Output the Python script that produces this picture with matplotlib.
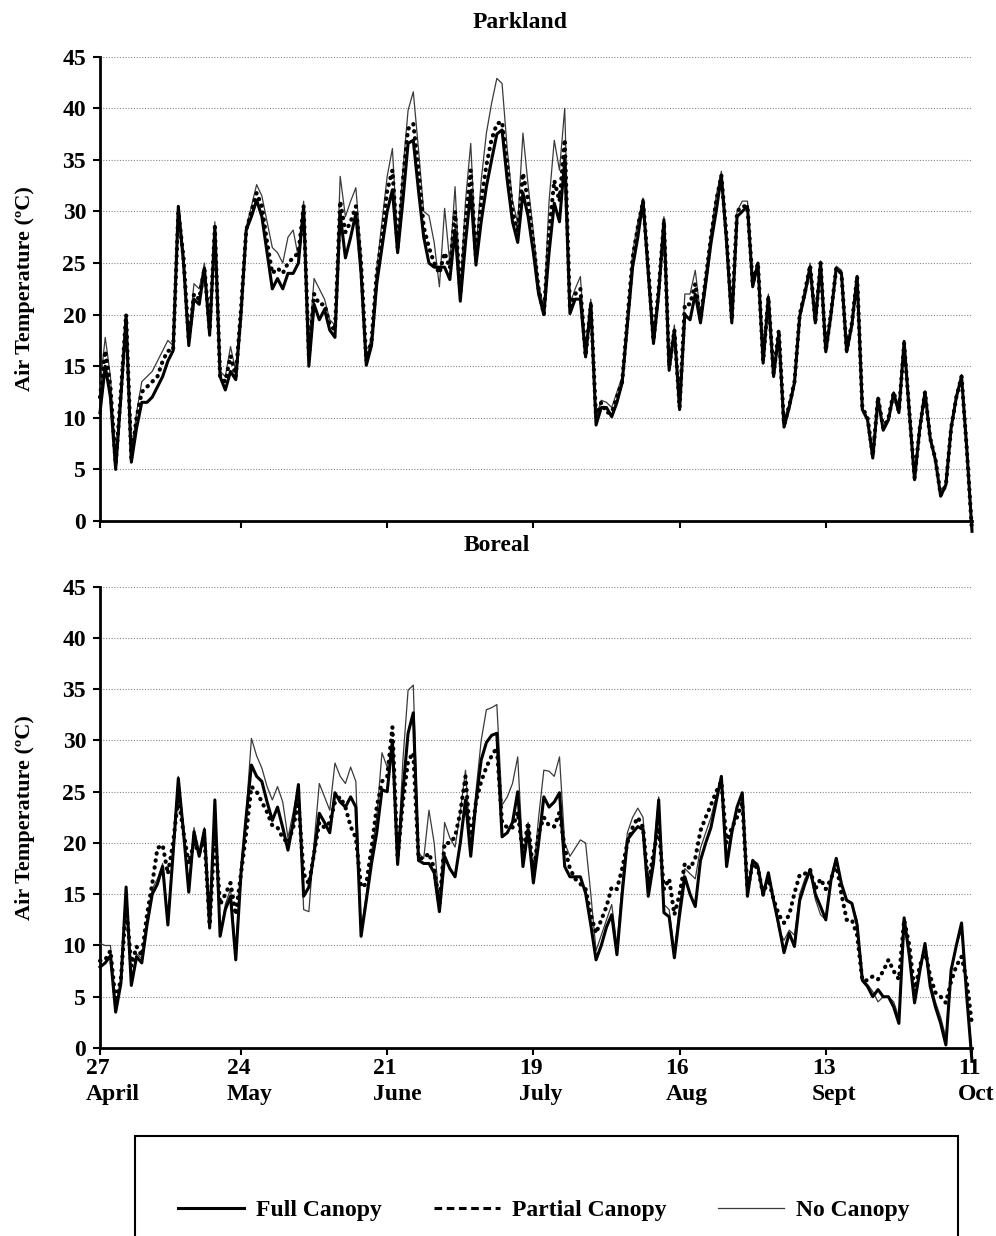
import numpy as np
import pandas as pd
import matplotlib
matplotlib.use("Agg")
import matplotlib.pyplot as plt
import matplotlib.transforms as mtransforms
from matplotlib.lines import Line2D
from matplotlib.patches import Rectangle

# daily maximum air temperature (ºC), 27 April - 11 October
park_full = [
    10.5, 15, 12, 5, 12, 19.8, 5.7, 9, 11.5, 11.5,
    12, 13, 14, 15.5, 16.5, 30.5, 25, 17, 21.5, 21,
    24.5, 18, 28.5, 14, 12.7, 14.5, 13.7, 20, 28.2, 29.5,
    31.1, 29.5, 26, 22.5, 23.5, 22.5, 24, 24, 25, 30.5,
    15, 21, 19.5, 20.5, 18.5, 17.8, 29.8, 25.5, 27.5, 29.8,
    24, 15.1, 17, 23, 26.5, 30, 32.1, 26, 31, 36.6,
    36.9, 32, 27.5, 25, 24.6, 24.6, 24.6, 23.4, 28.2, 21.3,
    27, 32, 24.8, 29, 32.4, 35, 37.5, 37.9, 33, 29,
    27, 31.8, 29.5, 26, 22, 20, 26, 30.8, 29, 35,
    20.1, 21.5, 21.5, 15.9, 21.1, 9.3, 11, 11, 10.1, 11.5,
    13.4, 19, 24.6, 27.5, 31.1, 24, 17.2, 22, 29.2, 14.6,
    18.5, 10.8, 20, 19.5, 22, 19.2, 23, 26.9, 30, 33.5,
    27, 19.2, 29.5, 30, 30.5, 22.7, 25, 15.3, 21.7, 14,
    18.2, 9.1, 11, 13.4, 19.8, 22, 24.6, 19.2, 25, 16.4,
    20, 24.5, 24, 16.4, 19, 23.7, 10.8, 9.8, 6.1, 11.9,
    8.8, 9.8, 12.4, 10.5, 17.4, 10.5, 4, 9, 12.5, 8,
    5.9, 2.4, 3.5, 9, 12, 14, 7, -1,
]
park_partial = [
    12, 16.5, 13, 5.5, 12.5, 20, 6, 10, 12.5, 13,
    13.5, 14, 15.5, 16.5, 16.5, 30, 25.5, 17.5, 22, 21.5,
    24.5, 18.5, 28.5, 14, 13.5, 16, 14, 20.5, 28.2, 30,
    31.8, 30.5, 27, 24, 24.5, 24, 25, 25.5, 26, 30.5,
    16, 22, 21, 21, 19, 18.5, 31, 28, 29, 30.5,
    25, 15.5, 17.5, 24, 27.5, 32, 34, 26.5, 33, 38,
    38.5, 34, 28.5, 26.5, 25, 24, 26, 24.5, 30, 22,
    29, 34, 25.5, 31, 34.5, 37, 38.5, 38.7, 34.5, 30,
    28, 33.7, 31, 27, 22.5, 20, 28, 33, 31, 37,
    20.5, 22, 22.5, 16, 21, 10, 11.5, 10.5, 10.5, 12,
    13.5, 19.5, 25.5, 28.5, 31, 24.5, 17.5, 22.5, 29, 15,
    18.5, 11, 21, 21, 23, 19.5, 23.5, 27.5, 31, 33.5,
    27.5, 19.5, 30, 30.5, 30.5, 23, 25, 15.5, 21.7, 14.3,
    18.5, 9.3, 11.2, 13.5, 20, 22.2, 24.8, 19.3, 25, 16.5,
    20.2, 24.5, 24, 16.5, 19.2, 23.7, 11, 10, 6.3, 12,
    9, 10, 12.5, 10.6, 17.2, 10.6, 4.2, 9, 12.5, 8,
    6, 2.5, 3.5, 9, 12, 14, 7, -1,
]
park_none = [
    13, 17.8, 14, 6, 13, 20, 6.5, 10.5, 13.5, 14,
    14.5, 15.5, 16.5, 17.5, 17, 30.5, 26, 18, 23, 22.5,
    25, 19, 29, 14.5, 14, 16.9, 14.5, 21, 28.5, 30.5,
    32.6, 31.5, 29, 26.5, 26, 25, 27.5, 28.2, 25.5, 31,
    17, 23.5, 22.5, 21.5, 19.5, 19, 33.4, 29.5, 31, 32.3,
    26, 15.5, 18, 24.5, 29, 33.4, 36.1, 27, 34, 39.8,
    41.6, 36, 30, 29.6, 27, 22.7, 30.3, 25, 32.4, 22.5,
    31, 36.6, 26, 33, 37.6, 40.5, 42.9, 42.4, 36, 31,
    28.9, 37.6, 32.5, 28, 23, 20.5, 31, 36.9, 34, 40,
    21, 22.5, 23.7, 16.5, 21.5, 10, 11.7, 11.5, 11, 12.5,
    14, 20, 26, 29, 31.3, 25, 18, 23, 29.5, 15,
    19, 11, 22, 22, 24.3, 20, 24, 28, 31.5, 33.9,
    28, 19.5, 30, 31, 31, 23.5, 25, 16, 22, 14.5,
    18.5, 9.5, 11.5, 13.6, 20.2, 22.5, 25, 19.5, 25.2, 16.6,
    20.5, 24.7, 24.3, 16.7, 19.5, 23.8, 11, 10, 6.5, 12,
    9, 10, 12.5, 10.6, 17.5, 10.6, 4.2, 9.2, 12.6, 8.2,
    6, 2.5, 3.6, 9.2, 12.2, 14.2, 7.2, -1,
]

boreal_full = [
    7.9, 8.3, 9, 3.5, 6.3, 15.7, 6.1, 8.9, 8.3, 12,
    15, 16, 17.7, 12, 19, 26.3, 21, 15.2, 21.1, 18.7,
    21.3, 11.7, 24.2, 10.9, 13.5, 14.8, 8.6, 17, 22.6, 27.6,
    26.5, 26, 24, 22.2, 23.5, 21.5, 19.3, 22, 25.7, 14.8,
    15.7, 19, 22.9, 22, 21, 24.9, 24, 23.5, 24.5, 23.5,
    10.9, 14.4, 18, 21, 25.2, 25, 30, 17.9, 25, 30.7,
    32.7, 18.3, 18, 18, 17.1, 13.3, 18.7, 17.5, 16.7, 20,
    24.2, 18.7, 24, 28.1, 29.8, 30.5, 30.7, 20.6, 21, 22,
    25, 17.7, 21.3, 16.1, 20, 24.5, 23.5, 24, 24.9, 17.7,
    16.7, 16.7, 16.7, 15.1, 12, 8.6, 10, 11.8, 13, 9.1,
    15, 20.3, 21, 21.6, 21.3, 14.8, 18, 24.2, 13.2, 12.8,
    8.8, 13, 16.7, 15, 13.8, 18.3, 20, 21.5, 24, 26.5,
    17.7, 21, 23.5, 24.9, 14.8, 18.3, 17.7, 14.9, 17.1, 14.4,
    12, 9.3, 11.2, 9.9, 14.4, 16, 17.4, 15, 13.8, 12.5,
    16.4, 18.5, 16, 14.4, 14.1, 12, 6.6, 6, 5, 5.7,
    5, 5, 4, 2.4, 12.7, 9, 4.4, 7.5, 10.2, 6,
    4, 2.4, 0.3, 7.6, 10, 12.2, 5, -1.3,
]
boreal_partial = [
    8.5, 8.6, 9.5, 4.5, 6.7, 14, 8, 9.9, 9, 13,
    16, 19.5, 19.8, 17, 20, 24.5, 21, 18, 20, 19,
    20.5, 12, 21, 14, 15, 16.1, 13, 17, 21, 25.5,
    25, 24, 23, 21.7, 21.5, 20.5, 20, 21.5, 24, 17,
    16, 19, 22, 21.5, 22, 24, 24.5, 23.5, 21.6, 20.5,
    15.7, 16, 19.5, 23.5, 26, 26.5, 31.3, 18.5, 24, 28,
    28.8, 18.5, 18.5, 19, 17.5, 14, 20, 20, 20.6, 23,
    26.5, 20, 24, 26, 27.4, 28.5, 29.3, 22, 21.5, 21.5,
    23, 19, 22, 17, 21, 22.5, 21.7, 21.6, 23, 19.5,
    17.5, 16.5, 16, 15.5, 13, 11.2, 12.5, 13.8, 15.7, 15.5,
    17.5, 20, 21.5, 22.5, 21.5, 16, 19, 21.5, 15.5, 16.5,
    13, 15, 18, 17.5, 18.5, 21.2, 22.5, 23.7, 25, 26,
    20, 21.5, 22.5, 24, 15.5, 18, 17.5, 15, 16.5, 14.5,
    13, 12.2, 13, 15.1, 16.9, 17, 17.4, 15.5, 16.5, 15.5,
    16.5, 18, 15, 12.5, 12.5, 11, 6.6, 6.6, 7, 6.7,
    7.5, 8.6, 7.5, 6.7, 12.5, 10, 5.5, 8, 9.5, 7,
    5.4, 5, 4.4, 6.5, 8, 8.9, 6.5, 2.2,
]
boreal_none = [
    10.2, 10, 10, 4, 6.5, 15.7, 6.5, 9.2, 8.7, 12.5,
    15.5, 16.5, 18, 12.5, 19.5, 26.5, 21.5, 15.5, 21.5, 19,
    21.5, 12, 24, 11, 14, 15.5, 9.5, 17.5, 23, 30.2,
    28.5, 27.3, 25.5, 24.2, 25.5, 24, 20.5, 23, 25.7, 13.5,
    13.3, 20, 25.8, 24.5, 23.2, 27.8, 26.5, 25.8, 27.4, 26,
    11.5, 15, 19, 22.5, 28.8, 27.4, 29, 18, 28, 34.9,
    35.4, 19, 18.5, 23.2, 20, 14, 22, 20.5, 19.6, 23,
    27.1, 19.5, 25, 30, 33, 33.2, 33.5, 23.7, 24.5, 25.8,
    28.4, 18.5, 22, 17, 22.5, 27.1, 27, 26.5, 28.4, 20,
    18.7, 19.5, 20.3, 20, 15, 9.5, 11, 12.5, 14, 10,
    16, 21, 22.5, 23.4, 22.5, 15.5, 19, 24.5, 14, 13.5,
    9.5, 14, 17.5, 17, 16.5, 19.5, 21, 22.5, 24.5, 26,
    18.5, 21.5, 23.5, 24.9, 15, 18.3, 18, 15, 17.1, 14.5,
    11.5, 10.5, 11.5, 11, 15, 16.5, 17.4, 14.5, 13, 12.5,
    16.5, 18.5, 16, 14.5, 14.2, 12.5, 6.6, 6.2, 5.5, 4.5,
    5, 5, 4.5, 3, 12.5, 9.5, 4.8, 8, 10, 6.5,
    4.5, 3, 1, 7.5, 10, 11.5, 5, -0.5,
]

start_date = "2004-04-27"
tick_dates = ["2004-04-27", "2004-05-24", "2004-06-21", "2004-07-19",
              "2004-08-16", "2004-09-13", "2004-10-11"]
tick_labels = ["27\nApril", "24\nMay", "21\nJune", "19\nJuly",
               "16\nAug", "13\nSept", "11\nOct"]
series_names = ["Full Canopy", "Partial Canopy", "No Canopy"]

plt.rcParams['font.family'] = ['Liberation Serif', 'DejaVu Serif']
plt.rcParams['font.weight'] = 'bold'

tick_days = (pd.to_datetime(tick_dates) - pd.Timestamp(start_date)).days.values

W, H = 996, 1236
fig = plt.figure(figsize=(W / 100, H / 100), dpi=100)

def px_axes(left, top, right, bottom):
    return fig.add_axes([left / W, 1 - bottom / H, (right - left) / W, (bottom - top) / H])

ax_top = px_axes(100, 56.7, 972, 521)
ax_bot = px_axes(100, 586.7, 972, 1048)


def draw_panel(ax, full, partial, none_):
    days = np.arange(len(full))
    ax.plot(days, none_, color='#3a3a3a', lw=0.9, clip_on=False, zorder=3)
    ax.plot(days, partial, color='black', lw=3.0, linestyle=(0, (0.1, 1.6)),
            dash_capstyle='round', clip_on=False, zorder=4)
    ax.plot(days, full, color='black', lw=2.2, clip_on=False, zorder=5)

    ax.set_xlim(0, 167)
    ax.set_ylim(0, 45)
    ax.set_yticks(range(0, 46, 5))
    ax.set_xticks(tick_days)
    ax.set_xticklabels([])
    ax.yaxis.grid(True, color='#8a8a8a', linestyle=(0, (1, 1.5)), lw=0.8)
    ax.set_axisbelow(True)
    for side in ['top', 'right']:
        ax.spines[side].set_visible(False)
    for side in ['left', 'bottom']:
        ax.spines[side].set_linewidth(2)
    ax.tick_params(direction='out', length=5, width=1.5, labelsize=17, pad=5)
    ax.set_ylabel('Air Temperature (ºC)', fontsize=16, fontweight='bold')
    ax.yaxis.set_label_coords(-0.074, 0.5)


draw_panel(ax_top, park_full, park_partial, park_none)
draw_panel(ax_bot, boreal_full, boreal_partial, boreal_none)

# date labels: left-aligned, starting a little left of each tick
shift = mtransforms.ScaledTranslation(-14 / 100, -10 / 100, fig.dpi_scale_trans)
date_trans = ax_bot.get_xaxis_transform() + shift
for day, lab in zip(tick_days, tick_labels):
    ax_bot.text(day, 0, lab, transform=date_trans, ha='left', va='top',
                multialignment='left', fontsize=17, fontweight='bold',
                linespacing=1.3)

fig.text(520 / W, 1 - 22 / H, 'Parkland', ha='center', va='center',
         fontsize=17, fontweight='bold')
fig.text(497 / W, 1 - 545 / H, 'Boreal', ha='center', va='center',
         fontsize=17, fontweight='bold')

# legend box runs off the bottom edge
fig.patches.append(Rectangle((135 / W, -0.05), 823 / W, (H - 1136) / H + 0.05,
                             transform=fig.transFigure, fill=False,
                             edgecolor='black', lw=1.5))
handles = [
    Line2D([], [], color='black', lw=2.2),
    Line2D([], [], color='black', lw=2.2, linestyle=(0, (2.5, 1.5))),
    Line2D([], [], color='#3a3a3a', lw=0.9),
]
fig.legend(handles, series_names, loc='center', bbox_to_anchor=(544 / W, 1 - 1210 / H),
           ncol=3, frameon=False, fontsize=17, handlelength=2.8,
           handletextpad=0.5, columnspacing=2.2)

fig.savefig('out.png', dpi=100)
